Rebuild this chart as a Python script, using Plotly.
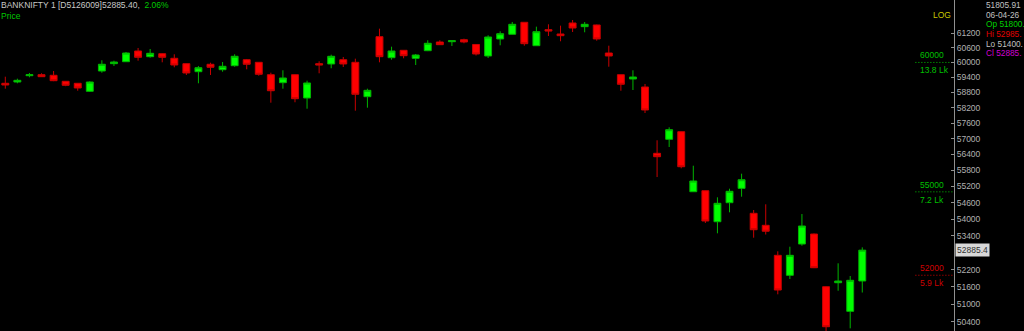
import math
import plotly.graph_objects as go

# ---- data ----
idx = list(range(72))
opens = [59165, 59216, 59468, 59508, 59484, 59244, 59165, 58847, 59656, 59950,
         60030, 60464, 60233, 60354, 60168, 59950, 59628, 59926, 59708, 59869,
         60111, 60006, 59508, 59189, 59508, 58583, 59950, 59938, 60111, 60006,
         58634, 61049, 60192, 60492, 60168, 60476, 60831, 60843, 60925, 60729,
         60261, 60954, 61147, 61642, 60680, 61337, 61159, 61613, 61461, 61531,
         60382, 59508, 59336, 59018, 56444, 56978, 57270, 55005, 55042, 53906,
         54600, 55129, 54212, 53776, 52702, 51998, 53104, 53462, 51601, 51740,
         50754, 51800]
highs = [59428, 59348, 59576, 59564, 59656, 59256, 59175, 59244, 60087, 60071,
         60423, 60586, 60545, 60370, 60330, 59960, 59857, 59990, 60018, 60330,
         60140, 60018, 59588, 59684, 59524, 59268, 60047, 60314, 60221, 60152,
         58950, 61378, 60639, 60504, 60342, 60901, 60901, 60895, 60966, 60740,
         61106, 61270, 61654, 61654, 61461, 61559, 61502, 61737, 61654, 61545,
         60680, 59516, 59684, 59137, 56940, 57439, 57280, 55975, 55050, 54798,
         55116, 55675, 54332, 54541, 52844, 53008, 54186, 53480, 51610, 52419,
         51974, 52985]
lows = [58950, 59165, 59404, 59420, 59250, 59050, 58870, 58819, 59588, 59857,
        60018, 60071, 60192, 60006, 59805, 59496, 59165, 59496, 59628, 59829,
        59724, 59468, 58398, 58950, 58414, 58163, 59564, 59765, 59817, 58085,
        58202, 60006, 60111, 60168, 59897, 60460, 60710, 60668, 60778, 60281,
        60180, 60696, 61140, 60680, 60670, 61077, 60860, 61241, 61229, 60884,
        59829, 58870, 58898, 57995, 55551, 56684, 55877, 54995, 53860, 53488,
        54248, 54821, 53330, 53444, 51338, 51869, 53044, 52253, 50000, 51462,
        50177, 51400]
closes = [59097, 59284, 59508, 59428, 59268, 59085, 58978, 59216, 59926, 60018,
          60382, 60208, 60370, 60208, 59897, 59576, 59788, 59805, 59845, 60249,
          59926, 59524, 58870, 59376, 58555, 59177, 59897, 60249, 59938, 58729,
          58886, 60233, 60464, 60273, 60301, 60778, 60721, 60884, 60831, 60342,
          61036, 61171, 61559, 60762, 61254, 61282, 61089, 61406, 61559, 60954,
          60261, 59125, 59416, 58112, 56315, 57347, 55937, 55402, 53932, 54578,
          55020, 55450, 53617, 53563, 51486, 52702, 53751, 52264, 50231, 51799,
          51824, 52885.4]

tick_vals = [61200, 60600, 60000, 59400, 58800, 58200, 57600, 57000, 56400,
             55800, 55200, 54600, 54000, 53400, 52200, 51600, 51000, 50400]
levels = [60000, 55000, 52000]
level_vols = ["13.8 Lk", "7.2 Lk", "5.9 Lk"]
level_colors = ["#00c000", "#00c000", "#d00000"]
last_price = 52885.4
header_main = "BANKNIFTY 1 [D5126009]52885.40,"
header_chg = "2.06%"
info_lines = [("", "51805.91", "#c0c0c0", "#c0c0c0"),
              ("", "06-04-26", "#c0c0c0", "#c0c0c0"),
              ("Op", "51800.", "#00d000", "#00d000"),
              ("Hi", "52985.", "#e00000", "#e00000"),
              ("Lo", "51400.", "#c0c0c0", "#c0c0c0"),
              ("Cl", "52885.", "#d000d0", "#d000d0")]

FONT = "Liberation Sans, Arial, sans-serif"
PLOT_W = 954.0
PLOT_H = 331.0

fig = go.Figure()
fig.add_trace(go.Candlestick(
    x=idx, open=opens, high=highs, low=lows, close=closes,
    increasing=dict(line=dict(color="#00b400", width=1), fillcolor="#00ff00"),
    decreasing=dict(line=dict(color="#c80000", width=1), fillcolor="#ff0000"),
    whiskerwidth=0, hoverinfo="skip", showlegend=False))

# level lines (dotted) near the right axis
for lv, col in zip(levels, level_colors):
    fig.add_trace(go.Scatter(x=[75.4, 78.6], y=[lv, lv], mode="lines",
                             line=dict(color=col, width=1, dash="1px,2px"),
                             hoverinfo="skip", showlegend=False))

x0 = -0.44
x1 = x0 + PLOT_W / 12.07

fig.update_layout(
    width=1024, height=331,
    margin=dict(l=0, r=1024 - PLOT_W, t=0, b=0),
    paper_bgcolor="black", plot_bgcolor="black",
    boxgap=0.18,
    xaxis=dict(range=[x0, x1], visible=False, rangeslider=dict(visible=False),
               showgrid=False, zeroline=False),
    yaxis=dict(type="log", side="right",
               range=[math.log10(50087), math.log10(62573)],
               tickvals=tick_vals, ticktext=[str(v) for v in tick_vals],
               ticks="inside", ticklen=3, tickcolor="#909090",
               showline=True, linecolor="#909090", linewidth=1,
               showgrid=False, zeroline=False,
               tickfont=dict(family=FONT, size=8.5, color="#b0b0b0")),
    font=dict(family=FONT),
)

ann = []
def px_ann(text, x, y, color, size=8.5, xanchor="left", **kw):
    ann.append(dict(text=text, xref="paper", yref="paper",
                    x=x / PLOT_W, y=1 - y / PLOT_H, xanchor=xanchor,
                    yanchor="middle", showarrow=False,
                    font=dict(family=FONT, size=size, color=color), **kw))

px_ann('<span style="color:#c8c8c8">' + header_main + '</span>  '
       '<span style="color:#00c800">' + header_chg + '</span>',
       -1, 5, "#c8c8c8")
px_ann("Price", -1, 15.5, "#00c800")
px_ann("LOG", 953, 15, "#c8c800", xanchor="right")

for i, (lab, val, c1, c2) in enumerate(info_lines):
    y = 5 + i * 9.7
    if lab:
        txt = '<span style="color:%s">%s</span> <span style="color:%s">%s</span>' % (c1, lab, c2, val)
    else:
        txt = val
    px_ann(txt, 984, y, c1, size=8.3)

# level labels
for lv, vol, col in zip(levels, level_vols, level_colors):
    ly = math.log10(lv)
    ann.append(dict(text=str(lv), xref="paper", yref="y", x=918 / PLOT_W, y=ly,
                    xanchor="left", yanchor="bottom", yshift=0, showarrow=False,
                    font=dict(family=FONT, size=8.5, color=col)))
    ann.append(dict(text=vol, xref="paper", yref="y", x=918 / PLOT_W, y=ly,
                    xanchor="left", yanchor="top", yshift=-1, showarrow=False,
                    font=dict(family=FONT, size=8.5, color=col)))

# last price box
ann.append(dict(text=str(last_price), xref="paper", yref="y", x=1.0,
                y=math.log10(last_price), xanchor="left", yanchor="middle",
                xshift=1, showarrow=False, bgcolor="#d8d8d8", borderpad=1,
                font=dict(family=FONT, size=8.5, color="#303030")))

fig.update_layout(annotations=ann)
fig.write_html("out.html")
